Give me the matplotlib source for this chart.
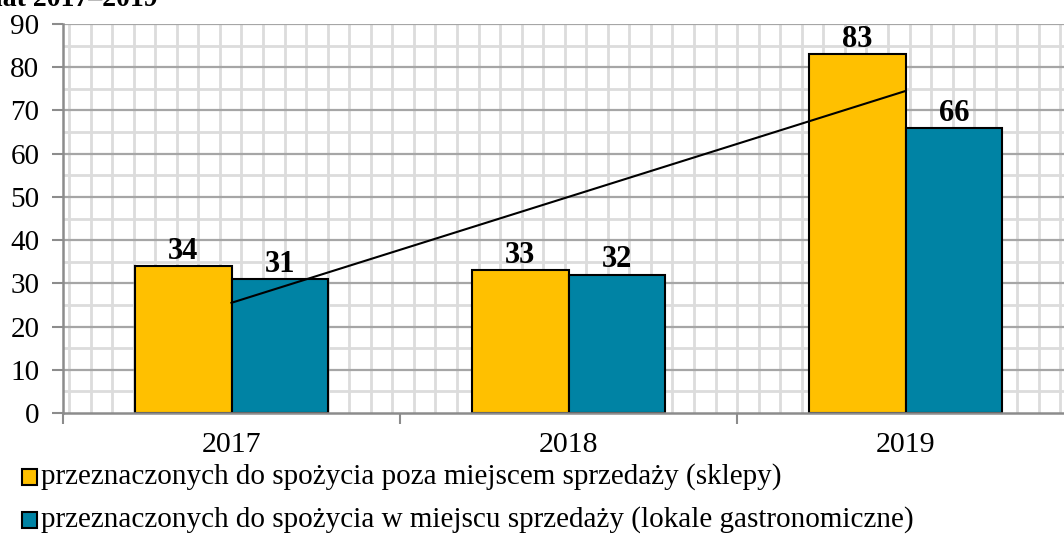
import numpy as np
import matplotlib
matplotlib.use("Agg")
import matplotlib.pyplot as plt
from matplotlib.patches import Rectangle

plt.rcParams['font.family'] = ['Liberation Serif', 'DejaVu Serif']

years = ["2017", "2018", "2019"]
sklepy = [34, 33, 83]
lokale = [31, 32, 66]
label_sklepy = "przeznaczonych do spożycia poza miejscem sprzedaży (sklepy)"
label_lokale = "przeznaczonych do spożycia w miejscu sprzedaży (lokale gastronomiczne)"
yticks = list(range(0, 100, 10))

YELLOW = "#FFC000"
TEAL = "#0083A4"

W, H = 1064, 534
fig = plt.figure(figsize=(W / 100, H / 100), dpi=100)
ax = fig.add_axes([63 / W, 1 - 413 / H, (1074 - 63) / W, 389 / H])

x = np.arange(len(years))
bw = 0.287
ax.set_xlim(-0.5, 2.5)
ax.set_ylim(0, 90)

# background grid (square paper grid)
px_per_unit_x = 337.0
grid_step = 21.55 / px_per_unit_x
gx = np.arange(-0.482, 2.5, grid_step)
for g in gx:
    ax.axvline(g, color="#dcdcdc", lw=2.0, zorder=0)
for v in range(5, 90, 10):
    ax.axhline(v, color="#dcdcdc", lw=2.0, zorder=0)
for v in range(10, 91, 10):
    ax.axhline(v, color="#a6a6a6", lw=1.6, zorder=0.5)

ax.bar(x - bw / 2, sklepy, bw, color=YELLOW, edgecolor="black", lw=1.5, zorder=2)
ax.bar(x + bw / 2, lokale, bw, color=TEAL, edgecolor="black", lw=1.5, zorder=2)

for xs, vals in ((x - bw / 2, sklepy), (x + bw / 2, lokale)):
    for xi, v in zip(xs, vals):
        ax.annotate(str(v), (xi, v), xytext=(0, 5.2), textcoords="offset points",
                    ha="center", va="baseline", fontsize=22, fontweight="bold", zorder=4)

# linear trend of the first series
coef = np.polyfit(x, sklepy, 1)
ax.plot(x, np.polyval(coef, x), color="black", lw=1.5, zorder=3)

for s in ["top", "right"]:
    ax.spines[s].set_visible(False)
for s in ["left", "bottom"]:
    ax.spines[s].set_color("#8c8c8c")
    ax.spines[s].set_linewidth(1.8)
    ax.spines[s].set_zorder(3)

ax.set_yticks(yticks)
ax.set_yticklabels([str(t) for t in yticks], fontsize=21)
ax.tick_params(axis="y", length=8, width=1.5, color="#8c8c8c", pad=9)

ax.set_xticks(x)
ax.set_xticklabels(years, fontsize=21.5)
ax.tick_params(axis="x", which="major", length=0, pad=14)
ax.set_xticks([-0.5, 0.5, 1.5], minor=True)
ax.tick_params(axis="x", which="minor", length=8, width=1.5, color="#8c8c8c")

# legend drawn manually (square marker + text)
for color, label, base in ((YELLOW, label_sklepy, 484), (TEAL, label_lokale, 527)):
    fig.patches.append(Rectangle((22 / W, 1 - (base + 0.5) / H), 15 / W, 16 / H,
                                 transform=fig.transFigure, facecolor=color,
                                 edgecolor="black", lw=1.5))
    fig.text(41 / W, 1 - base / H, label, fontsize=21, ha="left", va="baseline")

fig.text(-0.005, 1 - 6 / H, "lat 2017–2019", fontsize=20, fontweight="bold",
         ha="left", va="baseline")

fig.savefig("out.png", dpi=100)
